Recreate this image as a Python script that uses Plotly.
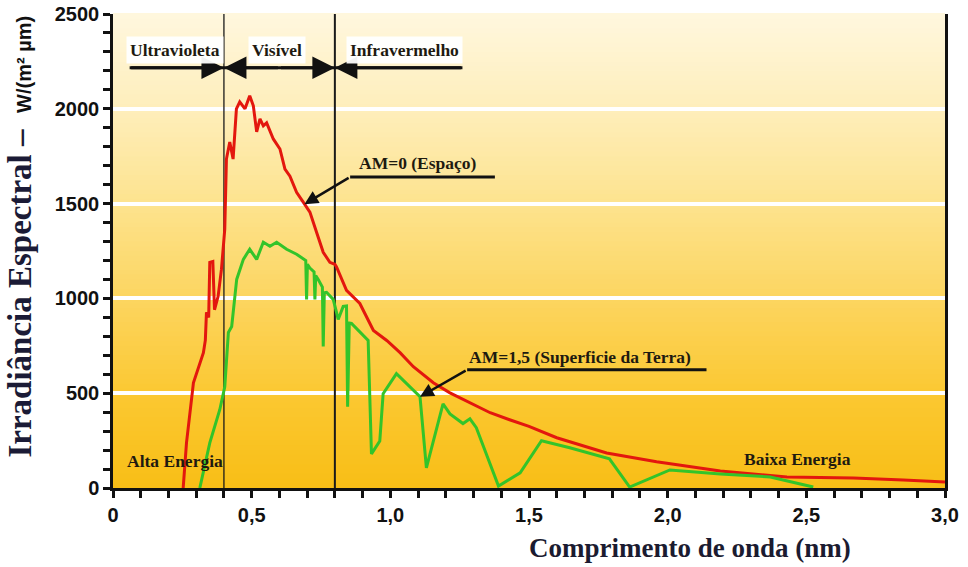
import plotly.graph_objects as go

# Solar spectral irradiance: extraterrestrial (AM0) and at ground level (AM1.5)
wl_am0 = [0.253, 0.265, 0.290, 0.313, 0.326, 0.333, 0.337, 0.345, 0.349, 0.360, 0.366,
          0.379, 0.391, 0.403, 0.409, 0.421, 0.433, 0.445, 0.457, 0.476, 0.493, 0.506,
          0.518, 0.530, 0.542, 0.554, 0.578, 0.602, 0.620, 0.638, 0.662, 0.686, 0.710,
          0.734, 0.758, 0.782, 0.800, 0.806, 0.842, 0.890, 0.939, 0.987, 1.035, 1.083,
          1.155, 1.215, 1.287, 1.360, 1.430, 1.500, 1.600, 1.780, 1.960, 2.118, 2.190,
          2.430, 2.670, 2.850, 3.000]
irr_am0 = [0, 238, 555, 661, 714, 780, 926, 900, 1190, 1195, 940,
           1011, 1153, 1365, 1735, 1825, 1735, 2000, 2037, 2000, 2069, 2016,
           1878, 1947, 1910, 1926, 1841, 1788, 1682, 1645, 1560, 1508, 1455,
           1349, 1243, 1190, 1180, 1166, 1042, 973, 831, 778, 714, 640,
           555, 502, 450, 397, 360, 325, 265, 185, 138, 106, 90,
           58, 53, 42, 32]

wl_am15 = [0.313, 0.349, 0.385, 0.403, 0.416, 0.428, 0.446, 0.470, 0.493, 0.518, 0.542,
           0.566, 0.590, 0.626, 0.662, 0.686, 0.695, 0.698, 0.701, 0.710, 0.725, 0.728,
           0.731, 0.740, 0.755, 0.758, 0.762, 0.770, 0.794, 0.806, 0.812, 0.830, 0.842,
           0.846, 0.852, 0.860, 0.920, 0.932, 0.962, 0.974, 1.022, 1.107, 1.130, 1.190,
           1.215, 1.262, 1.287, 1.310, 1.390, 1.468, 1.545, 1.647, 1.790, 1.863, 2.008,
           2.190, 2.370, 2.525]
irr_am15 = [0, 238, 413, 534, 820, 852, 1100, 1206, 1259, 1206, 1296,
            1275, 1296, 1259, 1233, 1206, 1200, 995, 1180, 1160, 1140, 995,
            1120, 1100, 1060, 746, 1030, 1032, 995, 926, 889, 958, 960,
            429, 870, 868, 778, 180, 248, 497, 603, 481, 106, 444,
            391, 340, 365, 318, 10, 80, 249, 212, 154, 5, 95,
            74, 58, 5]

x_tickvals = [0, 0.5, 1.0, 1.5, 2.0, 2.5, 3.0]
x_ticktext = ["0", "0,5", "1,0", "1,5", "2,0", "2,5", "3,0"]
y_tickvals = [0, 500, 1000, 1500, 2000, 2500]
y_ticktext = ["0", "500", "1000", "1500", "2000", "2500"]

# Spectral band limits (µm) and the band arrow row
band_edges = [0.4, 0.8]
band_row_y = 2216
band_arrow_start, band_arrow_end = 0.06, 1.26
band_labels = [("Ultravioleta", 0.225), ("Visível", 0.59), ("Infravermelho", 1.05)]

SERIF = "Liberation Serif, Times New Roman, serif"
SANS = "Liberation Sans, Arial, sans-serif"
INK = "#1e1a10"
LABEL_SIZE = 17.5

fig = go.Figure()

# Vertical warm gradient behind the plot (cream at top, gold at bottom)
grad_stops = [(0.0, (248, 190, 22)), (0.2, (251, 200, 50)), (0.4, (252, 213, 96)),
              (0.6, (253, 227, 142)), (0.8, (254, 238, 187)), (1.0, (255, 247, 222))]


def grad_color(t):
    for (t0, c0), (t1, c1) in zip(grad_stops[:-1], grad_stops[1:]):
        if t0 <= t <= t1:
            f = (t - t0) / (t1 - t0)
            return "rgb(%d,%d,%d)" % tuple(round(a + (b - a) * f) for a, b in zip(c0, c1))
    return "rgb(%d,%d,%d)" % grad_stops[-1][1]


n_bands = 100
shapes = []
for i in range(n_bands):
    y0 = i / n_bands
    y1 = (i + 1) / n_bands
    shapes.append(dict(type="rect", xref="paper", yref="paper", x0=0, x1=1, y0=y0, y1=y1 + 0.002,
                       fillcolor=grad_color((y0 + y1) / 2), line=dict(width=0), layer="below"))

# Band separators
for xe, w in zip(band_edges, [1.3, 2]):
    shapes.append(dict(type="line", xref="x", yref="y", x0=xe, x1=xe, y0=0, y1=2500,
                       line=dict(color="#1a1a1a", width=w), layer="between"))

# Continuous shaft of the band arrow row
shapes.append(dict(type="line", xref="x", yref="y", x0=band_arrow_start, x1=band_arrow_end,
                   y0=band_row_y, y1=band_row_y, line=dict(color="#111111", width=3)))

fig.add_trace(go.Scatter(x=wl_am0, y=irr_am0, mode="lines",
                         line=dict(color="#e3170e", width=3), name="AM=0", hoverinfo="skip"))
fig.add_trace(go.Scatter(x=wl_am15, y=irr_am15, mode="lines",
                         line=dict(color="#33c42a", width=3), name="AM=1,5", hoverinfo="skip"))

annotations = []

# Band arrowheads: UV -> | <- Visible -> | <- IR
mid_band = (band_edges[0] + band_edges[1]) / 2
arrow_pairs = [(band_arrow_start, band_edges[0]), (mid_band, band_edges[0]),
               (mid_band, band_edges[1]), (band_arrow_end, band_edges[1])]
for tail, tip in arrow_pairs:
    annotations.append(dict(x=tip, y=band_row_y, ax=tail, ay=band_row_y, xref="x", yref="y",
                            axref="x", ayref="y", text="", showarrow=True, arrowhead=2,
                            arrowsize=1.5, arrowwidth=3, arrowcolor="#111111", standoff=0))
for label, xc in band_labels:
    annotations.append(dict(x=xc, y=2310, xref="x", yref="y", text=label, showarrow=False,
                            font=dict(family=SERIF, size=LABEL_SIZE, color=INK, weight="bold"),
                            bgcolor="rgba(255,255,255,0.95)", borderpad=3))

# Series callouts: label, underline and pointer to the curve
callouts = [
    dict(text="AM=0 (Espaço)", tx=1.10, ty=1714, line=(0.855, 1.377, 1640), tip=(0.69, 1497)),
    dict(text="AM=1,5 (Superficie da Terra)", tx=1.684, ty=691, line=(1.277, 2.14, 624), tip=(1.107, 481)),
]
for c in callouts:
    x0, x1, yl = c["line"]
    annotations.append(dict(x=c["tx"], y=c["ty"], xref="x", yref="y", text=c["text"], showarrow=False,
                            font=dict(family=SERIF, size=LABEL_SIZE, color=INK, weight="bold")))
    shapes.append(dict(type="line", xref="x", yref="y", x0=x0, x1=x1, y0=yl, y1=yl,
                       line=dict(color="#111111", width=3)))
    annotations.append(dict(x=c["tip"][0], y=c["tip"][1], ax=x0, ay=yl, xref="x", yref="y",
                            axref="x", ayref="y", text="", showarrow=True, arrowhead=2,
                            arrowsize=1.1, arrowwidth=2.5, arrowcolor="#111111", standoff=0))

annotations.append(dict(x=0.225, y=142, xref="x", yref="y", text="Alta Energia", showarrow=False,
                        font=dict(family=SERIF, size=LABEL_SIZE, color=INK, weight="bold")))
annotations.append(dict(x=2.468, y=153, xref="x", yref="y", text="Baixa Energia", showarrow=False,
                        font=dict(family=SERIF, size=LABEL_SIZE, color=INK, weight="bold")))

# Axis titles
annotations.append(dict(
    x=-0.112, y=0.53, xref="paper", yref="paper", xanchor="center", yanchor="middle",
    textangle=-90, showarrow=False,
    text=("<span style='font-family:Liberation Serif;font-size:33px;color:#1b1b36'>Irradiância Espectral –</span>"
          "  <span style='font-family:Liberation Sans;font-size:20px;color:#111'>W/(m² µm)</span>"),
    font=dict(family=SERIF, size=33, color="#1b1b36", weight="bold")))
annotations.append(dict(
    x=0.6935, y=-0.1266, xref="paper", yref="paper", xanchor="center", yanchor="middle",
    showarrow=False, text="Comprimento de onda (nm)",
    font=dict(family=SERIF, size=27, color="#1b1b30", weight="bold")))

fig.update_layout(
    width=968, height=567,
    margin=dict(l=113, r=23, t=14, b=79),
    paper_bgcolor="white", plot_bgcolor="#fcd560",
    showlegend=False,
    shapes=shapes, annotations=annotations,
    xaxis=dict(range=[0, 3.0], tickvals=x_tickvals, ticktext=x_ticktext, automargin=False,
               ticks="outside", ticklen=7, tickwidth=2.5, tickcolor="#111",
               minor=dict(dtick=0.1, ticks="outside", ticklen=7, tickwidth=2.5, tickcolor="#111"),
               showline=True, linecolor="#111", linewidth=2.5, showgrid=False, zeroline=False,
               tickfont=dict(family=SANS, size=20, color="#111", weight="bold")),
    yaxis=dict(range=[0, 2500], tickvals=y_tickvals, ticktext=y_ticktext, automargin=False,
               ticks="outside", ticklen=7, tickwidth=2.5, tickcolor="#111",
               minor=dict(dtick=100, ticks="outside", ticklen=7, tickwidth=2.5, tickcolor="#111"),
               showline=True, linecolor="#111", linewidth=2.5, mirror=True,
               showgrid=True, gridcolor="white", gridwidth=4, zeroline=False,
               tickfont=dict(family=SANS, size=20, color="#111", weight="bold")),
)

fig.write_html("out.html")
